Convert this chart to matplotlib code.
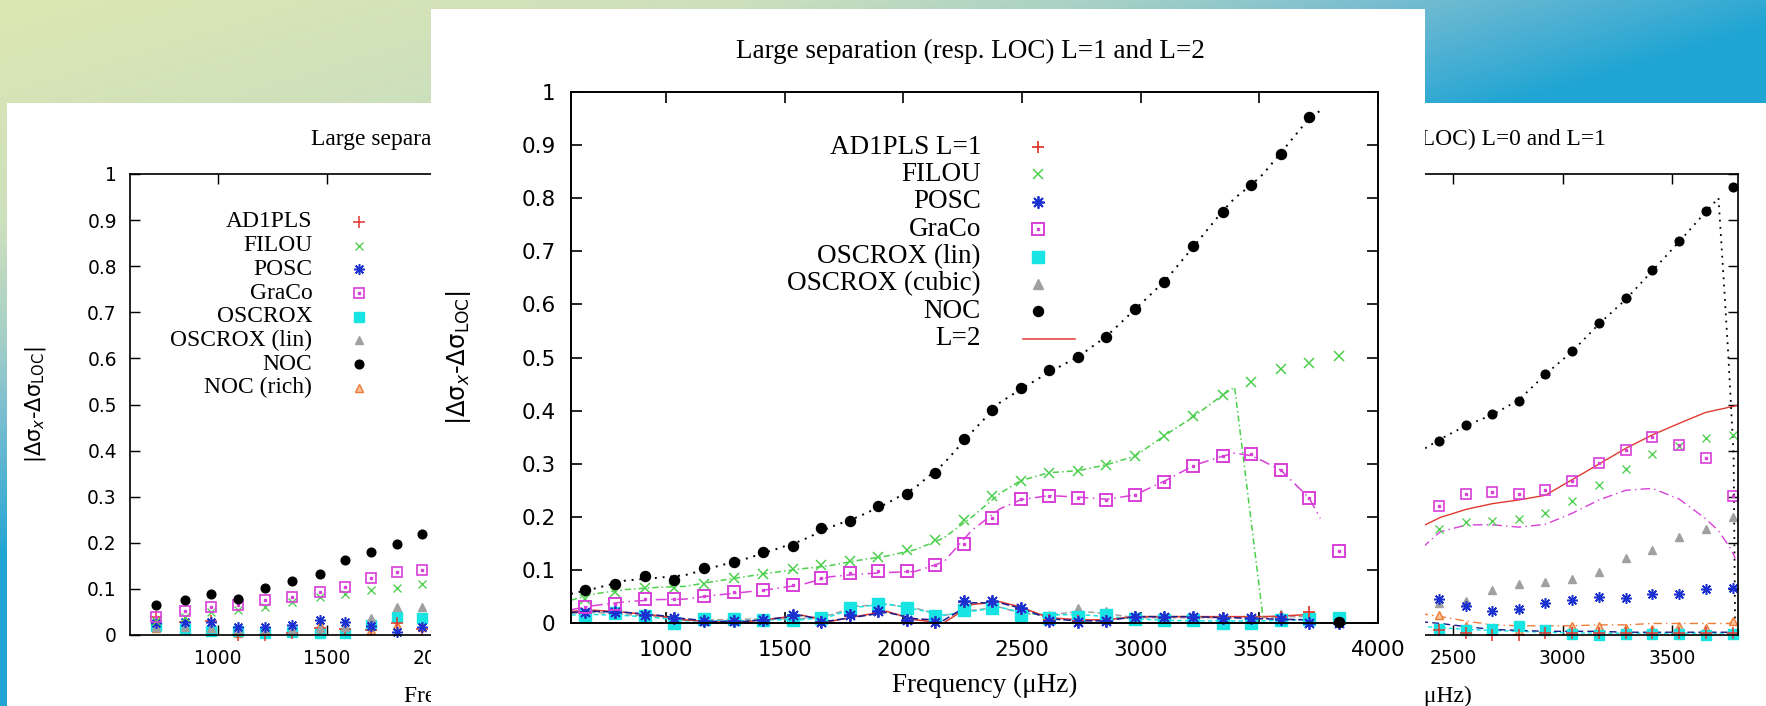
import numpy as np
import matplotlib
matplotlib.use('Agg')
import matplotlib.pyplot as plt
from matplotlib.colors import LinearSegmentedColormap
from matplotlib.patches import Rectangle

W, H = 1766, 706
SERIF = 'Liberation Serif'

RED = '#e03a30'
GREEN = '#4ccf4c'
BLUE = '#1a30d0'
NAVY = '#1c1c8c'
MAGENTA = '#d840d8'
CYAN = '#18e4e4'
GREY = '#a0a0a0'
ORANGE = '#ee7d3a'

# ---------------- centre chart : L=1 points, L=2 lines ----------------
freq_l1 = [660, 785, 910, 1035, 1160, 1285, 1410, 1535, 1655, 1775, 1895, 2015, 2135,
           2255, 2375, 2495, 2615, 2735, 2855, 2975, 3100, 3220, 3345, 3465, 3590, 3710, 3835]
adipls_l1 = [0.020, 0.018, 0.015, 0.008, 0.003, 0.003, 0.005, 0.013, 0.001, 0.013, 0.020, 0.004, 0.000,
             0.040, 0.040, 0.026, 0.005, 0.003, 0.003, 0.012, 0.010, 0.010, 0.010, 0.010, 0.012, 0.020, 0.000]
filou_l1 = [0.046, 0.059, 0.065, 0.066, 0.073, 0.085, 0.093, 0.102, 0.109, 0.117, 0.125, 0.137, 0.156,
            0.194, 0.240, 0.268, 0.283, 0.287, 0.298, 0.314, 0.352, 0.389, 0.429, 0.453, 0.478, 0.489, 0.503]
posc_l1 = [0.020, 0.020, 0.015, 0.010, 0.003, 0.003, 0.005, 0.015, 0.002, 0.015, 0.022, 0.005, 0.002,
           0.042, 0.042, 0.028, 0.003, 0.002, 0.003, 0.012, 0.012, 0.012, 0.010, 0.010, 0.008, 0.000, 0.000]
graco_l1 = [0.031, 0.035, 0.045, 0.045, 0.050, 0.059, 0.063, 0.072, 0.084, 0.094, 0.097, 0.098, 0.110,
            0.148, 0.198, 0.234, 0.240, 0.236, 0.232, 0.241, 0.266, 0.296, 0.314, 0.318, 0.289, 0.236, 0.136]
oscrox_lin_l1 = [0.016, 0.019, 0.013, 0.000, 0.008, 0.008, 0.005, 0.005, 0.009, 0.028, 0.035, 0.028, 0.013,
                 0.024, 0.028, 0.013, 0.010, 0.012, 0.015, 0.008, 0.005, 0.005, 0.000, 0.000, 0.005, 0.008, 0.010]
oscrox_cub_l1 = [0.020, 0.020, 0.015, 0.005, 0.005, 0.008, 0.008, 0.008, 0.010, 0.031, 0.034, 0.031, 0.013,
                 0.026, 0.031, 0.015, 0.014, 0.027, 0.020, 0.010, 0.010, 0.010, 0.010, 0.010, 0.015, 0.012, 0.010]
noc_l1 = [0.062, 0.073, 0.088, 0.081, 0.103, 0.114, 0.134, 0.145, 0.178, 0.193, 0.220, 0.243, 0.282,
          0.346, 0.402, 0.443, 0.477, 0.501, 0.539, 0.591, 0.642, 0.710, 0.774, 0.825, 0.883, 0.953, 0.002]

nan = np.nan
freq_l2 = [600, 700, 830, 960, 1080, 1200, 1330, 1450, 1570, 1690, 1810, 1930, 2050, 2170, 2290,
           2407, 2494, 2613, 2739, 2856, 2975, 3104, 3225, 3344, 3396, 3466, 3515, 3590, 3709, 3757]
noc_l2 = [0.055, 0.065, 0.080, 0.085, 0.090, 0.105, 0.120, 0.137, 0.155, 0.180, 0.200, 0.225, 0.255, 0.300, 0.360,
          0.415, 0.440, 0.472, 0.502, 0.540, 0.590, 0.645, 0.710, 0.775, 0.800, 0.825, 0.845, 0.885, 0.950, 0.965]
filou_l2 = [0.043, 0.055, 0.063, 0.067, 0.069, 0.078, 0.087, 0.095, 0.102, 0.108, 0.118, 0.126, 0.138, 0.160, 0.200,
            0.244, 0.268, 0.283, 0.287, 0.298, 0.314, 0.354, 0.389, 0.429, 0.444, 0.190, 0.012, nan, nan, nan]
graco_l2 = [0.025, 0.033, 0.040, 0.044, 0.045, 0.052, 0.058, 0.064, 0.072, 0.087, 0.092, 0.095, 0.097, 0.115, 0.175,
            0.215, 0.232, 0.240, 0.237, 0.233, 0.241, 0.268, 0.297, 0.314, 0.320, 0.315, 0.305, 0.288, 0.236, 0.197]
posc_l2 = [0.020, 0.022, 0.020, 0.015, 0.008, 0.003, 0.003, 0.008, 0.014, 0.004, 0.012, 0.020, 0.008, 0.005, 0.038,
           0.038, 0.028, 0.008, 0.004, 0.004, 0.012, 0.012, 0.012, 0.010, 0.010, 0.008, 0.008, 0.007, 0.006, nan]
adipls_l2 = [0.022, 0.024, 0.020, 0.014, 0.006, 0.002, 0.002, 0.008, 0.015, 0.003, 0.013, 0.022, 0.006, 0.000, 0.035,
             0.040, 0.030, 0.010, 0.006, 0.006, 0.012, 0.012, 0.012, 0.012, 0.012, 0.012, 0.012, 0.013, 0.016, nan]
oscrox_lin_l2 = [0.015, 0.016, 0.014, 0.010, 0.004, 0.004, 0.004, 0.006, 0.006, 0.012, 0.030, 0.036, 0.026, 0.015, 0.022,
                 0.030, 0.020, 0.015, 0.016, 0.012, 0.008, 0.005, 0.004, 0.004, 0.004, 0.004, 0.004, 0.005, 0.006, nan]
oscrox_cub_l2 = [0.018, 0.020, 0.016, 0.012, 0.005, 0.006, 0.007, 0.008, 0.008, 0.015, 0.032, 0.035, 0.028, 0.014, 0.024,
                 0.030, 0.018, 0.015, 0.022, 0.018, 0.010, 0.010, 0.010, 0.010, 0.010, 0.010, 0.010, 0.012, 0.012, nan]

centre_labels = ['AD1PLS L=1', 'FILOU', 'POSC', 'GraCo', 'OSCROX (lin)', 'OSCROX (cubic)', 'NOC']

# ---------------- side chart (shown twice, partly hidden) : L=0 points, L=1 lines ----------------
freq_l0 = [720, 850, 970, 1092, 1215, 1340, 1466, 1583, 1700, 1819, 1933, 2055, 2175,
           2296, 2437, 2559, 2678, 2799, 2921, 3043, 3166, 3288, 3409, 3531, 3653, 3775]
adipls_l0 = [0.038, 0.028, 0.030, 0.000, 0.000, 0.004, 0.015, 0.012, 0.011, 0.025, 0.012, 0.010, 0.010,
             0.010, 0.010, 0.005, 0.000, 0.000, 0.005, 0.005, 0.005, 0.005, 0.005, 0.005, 0.005, 0.005]
filou_l0 = [0.030, 0.040, 0.050, 0.054, 0.061, 0.072, 0.083, 0.090, 0.098, 0.101, 0.111, 0.140, 0.170,
            0.200, 0.229, 0.246, 0.247, 0.252, 0.264, 0.291, 0.325, 0.361, 0.393, 0.410, 0.427, 0.434]
posc_l0 = [0.025, 0.029, 0.028, 0.018, 0.018, 0.022, 0.033, 0.029, 0.020, 0.007, 0.018, 0.030, 0.050,
           0.070, 0.078, 0.063, 0.053, 0.056, 0.070, 0.076, 0.083, 0.081, 0.090, 0.090, 0.100, 0.101]
graco_l0 = [0.040, 0.053, 0.060, 0.065, 0.076, 0.083, 0.094, 0.105, 0.124, 0.136, 0.141, 0.170, 0.210,
            0.250, 0.280, 0.306, 0.310, 0.305, 0.314, 0.335, 0.374, 0.402, 0.430, 0.412, 0.383, 0.301]
oscrox_l0 = [0.020, 0.012, 0.009, 0.008, 0.005, 0.006, 0.005, 0.004, 0.022, 0.040, 0.036, 0.030, 0.020,
             0.015, 0.013, 0.010, 0.013, 0.020, 0.010, 0.003, 0.000, 0.002, 0.003, 0.003, 0.000, 0.003]
oscrox_lin_l0 = [0.018, 0.018, 0.015, 0.012, 0.012, 0.012, 0.015, 0.018, 0.036, 0.060, 0.060, 0.060, 0.065,
                 0.070, 0.070, 0.073, 0.098, 0.110, 0.114, 0.122, 0.137, 0.166, 0.185, 0.212, 0.229, 0.256]
noc_l0 = [0.065, 0.077, 0.090, 0.079, 0.103, 0.118, 0.133, 0.163, 0.180, 0.197, 0.219, 0.250, 0.290,
          0.350, 0.420, 0.456, 0.479, 0.508, 0.566, 0.617, 0.676, 0.730, 0.791, 0.855, 0.920, 0.972]
noc_rich_l0 = [0.015, 0.012, 0.010, 0.005, 0.008, 0.007, 0.022, 0.018, 0.011, 0.022, 0.018, 0.020, 0.030,
               0.040, 0.044, 0.020, 0.010, 0.010, 0.013, 0.020, 0.020, 0.016, 0.013, 0.020, 0.016, 0.030]

freq_l1_side = [2100, 2250, 2372, 2441, 2562, 2680, 2800, 2920, 3043, 3166, 3288, 3409, 3531, 3653,
                3711, 3741, 3757, 3780, 3787, 3795]
noc_l1_side = [0.270, 0.330, 0.405, 0.425, 0.455, 0.478, 0.510, 0.565, 0.615, 0.675, 0.728, 0.790, 0.853, 0.918,
               0.948, 0.723, 0.596, 0.390, 0.000, nan]
adipls_l1_side = [0.190, 0.215, 0.239, 0.255, 0.273, 0.285, 0.293, 0.303, 0.337, 0.371, 0.405, 0.434, 0.459, 0.483,
                  0.489, 0.492, 0.494, 0.496, 0.497, 0.498]
graco_l1_side = [0.150, 0.175, 0.195, 0.224, 0.239, 0.239, 0.234, 0.240, 0.264, 0.293, 0.314, 0.318, 0.295, 0.252,
                 0.226, 0.205, 0.195, 0.175, 0.166, nan]
nocrich_l1_side = [0.040, 0.045, 0.045, 0.040, 0.030, 0.022, 0.020, 0.020, 0.020, 0.022, 0.022, 0.025, 0.025, 0.025,
                   0.025, 0.025, 0.025, 0.030, 0.030, 0.030]
posc_l1_side = [0.030, 0.030, 0.028, 0.025, 0.018, 0.012, 0.010, 0.008, 0.008, 0.008, 0.006, 0.006, 0.006, 0.006,
                0.006, 0.006, 0.006, 0.006, 0.006, 0.006]
oscrox_l1_side = [0.020, 0.020, 0.018, 0.016, 0.012, 0.010, 0.008, 0.006, 0.005, 0.004, 0.004, 0.004, 0.004, 0.004,
                  0.004, 0.004, 0.004, 0.004, 0.004, 0.004]

side_labels = ['AD1PLS', 'FILOU', 'POSC', 'GraCo', 'OSCROX', 'OSCROX (lin)', 'NOC', 'NOC (rich)']

yticks = [0, 0.1, 0.2, 0.3, 0.4, 0.5, 0.6, 0.7, 0.8, 0.9, 1]
side_xticks = [1000, 1500, 2000, 2500, 3000, 3500]
centre_xticks = [1000, 1500, 2000, 2500, 3000, 3500, 4000]


def fig_box(x0, y0, x1, y1):
    # pixel box (y from the top) -> figure fraction
    return [x0 / W, 1 - y1 / H, (x1 - x0) / W, (y1 - y0) / H]


def white_panel(x0, y0, x1, y1, z):
    b = fig_box(x0, y0, x1, y1)
    fig.add_artist(Rectangle((b[0], b[1]), b[2], b[3], transform=fig.transFigure,
                             facecolor='white', edgecolor='none', zorder=z))


def marks(ax, x, y, kind, s=1.0, **kw):
    ms = 8.5 * s
    kw.setdefault('clip_on', False)
    if kind == 'plus':
        ax.plot(x, y, ls='none', marker='+', ms=ms * 1.1, mew=1.3 * s, color=RED, **kw)
    elif kind == 'cross':
        ax.plot(x, y, ls='none', marker='x', ms=ms * 0.85, mew=1.1 * s, color=GREEN, **kw)
    elif kind == 'star':
        ax.plot(x, y, ls='none', marker=(8, 2, 0), ms=ms * 1.05, mew=1.3 * s, color=BLUE, **kw)
    elif kind == 'sqdot':
        ax.plot(x, y, ls='none', marker='s', ms=ms * 0.95, mfc='none', mec=MAGENTA, mew=1.4 * s, **kw)
        ax.plot(x, y, ls='none', marker='s', ms=1.8 * s, color=MAGENTA, **kw)
    elif kind == 'sq':
        ax.plot(x, y, ls='none', marker='s', ms=ms * 0.95, color=CYAN, **kw)
    elif kind == 'tri':
        ax.plot(x, y, ls='none', marker='^', ms=ms * 0.85, color=GREY, **kw)
    elif kind == 'dot':
        ax.plot(x, y, ls='none', marker='o', ms=ms * 0.85, color='black', **kw)
    elif kind == 'otri':
        ax.plot(x, y, ls='none', marker='^', ms=ms * 0.85, mfc='#f7c29a', mec=ORANGE, mew=1.2 * s, **kw)


def frame(ax, s, xmax, xticks, xlabels):
    ax.set_xlim(600, xmax)
    ax.set_ylim(0, 1)
    ax.set_xticks(xticks)
    ax.set_xticklabels(xlabels)
    ax.set_yticks(yticks)
    ax.set_yticklabels(['%g' % v for v in yticks])
    ax.tick_params(direction='in', top=True, right=True, length=8 * s, width=1.2 * s,
                   labelsize=15.5 * s, color='black')
    ax.tick_params(axis='x', pad=12 * s)
    ax.tick_params(axis='y', pad=11 * s)
    for sp in ax.spines.values():
        sp.set_linewidth(1.4 * s)


def key(ax, labels, kinds, s, x_text, x_mark, y0, dy):
    for i, (lab, kind) in enumerate(zip(labels, kinds)):
        y = y0 - i * dy
        ax.text(x_text, y, lab, transform=ax.transAxes, ha='right', va='center',
                family=SERIF, fontsize=19.5 * s)
        marks(ax, [x_mark], [y], kind, s, transform=ax.transAxes)


def side_chart(ax, s, left_copy):
    # the left copy only shows its left part, the right copy only its right part
    if left_copy:
        xlabels = [str(v) if v <= 2000 else '' for v in side_xticks]
    else:
        xlabels = [str(v) if v >= 2500 else '' for v in side_xticks]
    frame(ax, s, 3800, side_xticks, xlabels)
    lw = 1.0
    ax.plot(freq_l1_side, oscrox_l1_side, color=CYAN, lw=lw, ls=(0, (3, 2)))
    ax.plot(freq_l1_side, posc_l1_side, color=NAVY, lw=lw, ls=(0, (5, 3)))
    ax.plot(freq_l1_side, nocrich_l1_side, color=ORANGE, lw=lw, ls=(0, (6, 3, 1, 3)))
    ax.plot(freq_l1_side, adipls_l1_side, color=RED, lw=lw)
    ax.plot(freq_l1_side, graco_l1_side, color=MAGENTA, lw=lw, ls=(0, (7, 3, 1, 3)))
    ax.plot(freq_l1_side, noc_l1_side, color='black', lw=1.3, ls=(0, (1, 3)))

    marks(ax, freq_l0, noc_rich_l0, 'otri', s)
    marks(ax, freq_l0, oscrox_l0, 'sq', s)
    marks(ax, freq_l0, adipls_l0, 'plus', s)
    marks(ax, freq_l0, oscrox_lin_l0, 'tri', s)
    marks(ax, freq_l0, posc_l0, 'star', s)
    marks(ax, freq_l0, filou_l0, 'cross', s)
    marks(ax, freq_l0, graco_l0, 'sqdot', s)
    marks(ax, freq_l0, noc_l0, 'dot', s)

    if left_copy:
        title = 'Large separation (resp. LOC) L=0 and L=1'
        key(ax, side_labels, ['plus', 'cross', 'star', 'sqdot', 'sq', 'tri', 'dot', 'otri'],
            s, 0.26, 0.327, 0.896, 0.0514)
        ax.text(-0.1355, 0.5, '|\u0394\u03c3$_x$-\u0394\u03c3$_{\\rm LOC}$|', transform=ax.transAxes,
                rotation=90, ha='center', va='center', fontsize=17.5 * s)
    else:
        ax.tick_params(axis='y', labelleft=False)
        title = '(resp. LOC) L=0 and L=1'
    ax.text(0.548 if left_copy else 0.6376, 1.074, title, transform=ax.transAxes,
            ha='center', va='center', family=SERIF, fontsize=19.5 * s)
    ax.text(0.506, -0.134, 'Frequency (\u03bcHz)', transform=ax.transAxes,
            ha='center', va='center', family=SERIF, fontsize=19.5 * s)


fig = plt.figure(figsize=(W / 100, H / 100), dpi=100)

# slide background gradient
bg = fig.add_axes([0, 0, 1, 1], zorder=0)
gx, gy = np.meshgrid(np.arange(W), np.arange(H))
t = np.clip(gx / W * 0.95 + gy / 560.0, 0, 1.05)
cmap = LinearSegmentedColormap.from_list('slide', [
    (0.0, '#dde7b2'), (0.40, '#cde0bd'), (0.60, '#a6d0c6'),
    (0.75, '#78bdd0'), (0.90, '#45aed4'), (1.0, '#1fa5d3')])
bg.imshow(t, cmap=cmap, vmin=0, vmax=1.0, aspect='auto', extent=[0, W, H, 0], interpolation='bilinear')
bg.set_axis_off()

# side charts (left copy and right copy)
s = 0.866
white_panel(7, 103, 859, H, 1)
ax_l = fig.add_axes(fig_box(130, 174, 831, 635))
ax_l.set_zorder(2)
side_chart(ax_l, s, True)

white_panel(914, 103, W, H, 1)
ax_r = fig.add_axes(fig_box(1037, 174, 1738, 635))
ax_r.set_zorder(2)
side_chart(ax_r, s, False)

# centre chart
white_panel(431, 9, 1425, H, 3)
ax = fig.add_axes(fig_box(571, 92, 1378, 623))
ax.set_zorder(4)
frame(ax, 1.0, 4000, centre_xticks, [str(v) for v in centre_xticks])

lw = 1.1
ax.plot(freq_l2, oscrox_cub_l2, color=GREY, lw=lw, ls=(0, (4, 2)))
ax.plot(freq_l2, oscrox_lin_l2, color=CYAN, lw=lw, ls=(0, (3, 2)))
ax.plot(freq_l2, adipls_l2, color=RED, lw=lw)
ax.plot(freq_l2, posc_l2, color=NAVY, lw=lw, ls=(0, (5, 2)))
ax.plot(freq_l2, graco_l2, color=MAGENTA, lw=lw, ls=(0, (7, 3, 1, 3)))
ax.plot(freq_l2, filou_l2, color=GREEN, lw=lw, ls=(0, (4, 2, 1, 2)))
ax.plot(freq_l2, noc_l2, color='black', lw=1.4, ls=(0, (1, 3)))

marks(ax, freq_l1, oscrox_cub_l1, 'tri')
marks(ax, freq_l1, oscrox_lin_l1, 'sq')
marks(ax, freq_l1, adipls_l1, 'plus')
marks(ax, freq_l1, posc_l1, 'star')
marks(ax, freq_l1, filou_l1, 'cross')
marks(ax, freq_l1, graco_l1, 'sqdot')
marks(ax, freq_l1, noc_l1, 'dot')

key(ax, centre_labels, ['plus', 'cross', 'star', 'sqdot', 'sq', 'tri', 'dot'],
    1.0, 0.508, 0.579, 0.8964, 0.0516)
ky = 0.8964 - 7 * 0.0516
ax.text(0.508, ky, 'L=2', transform=ax.transAxes, ha='right', va='center', family=SERIF, fontsize=19.5)
ax.plot([0.560, 0.625], [ky, ky], color=RED, lw=1.1, transform=ax.transAxes, clip_on=False)

fig.text(970 / W, 1 - 51 / H, 'Large separation (resp. LOC) L=1 and L=2', ha='center', va='center',
         family=SERIF, fontsize=19.5, zorder=5)
ax.text((985 - 571) / 807, -(685 - 623) / 531, 'Frequency (\u03bcHz)', transform=ax.transAxes,
        ha='center', va='center', family=SERIF, fontsize=19.5)
ax.text((459 - 571) / 807, 0.5, '|\u0394\u03c3$_x$-\u0394\u03c3$_{\\rm LOC}$|', transform=ax.transAxes,
        rotation=90, ha='center', va='center', fontsize=17.5)

fig.savefig('out.png', dpi=100)
